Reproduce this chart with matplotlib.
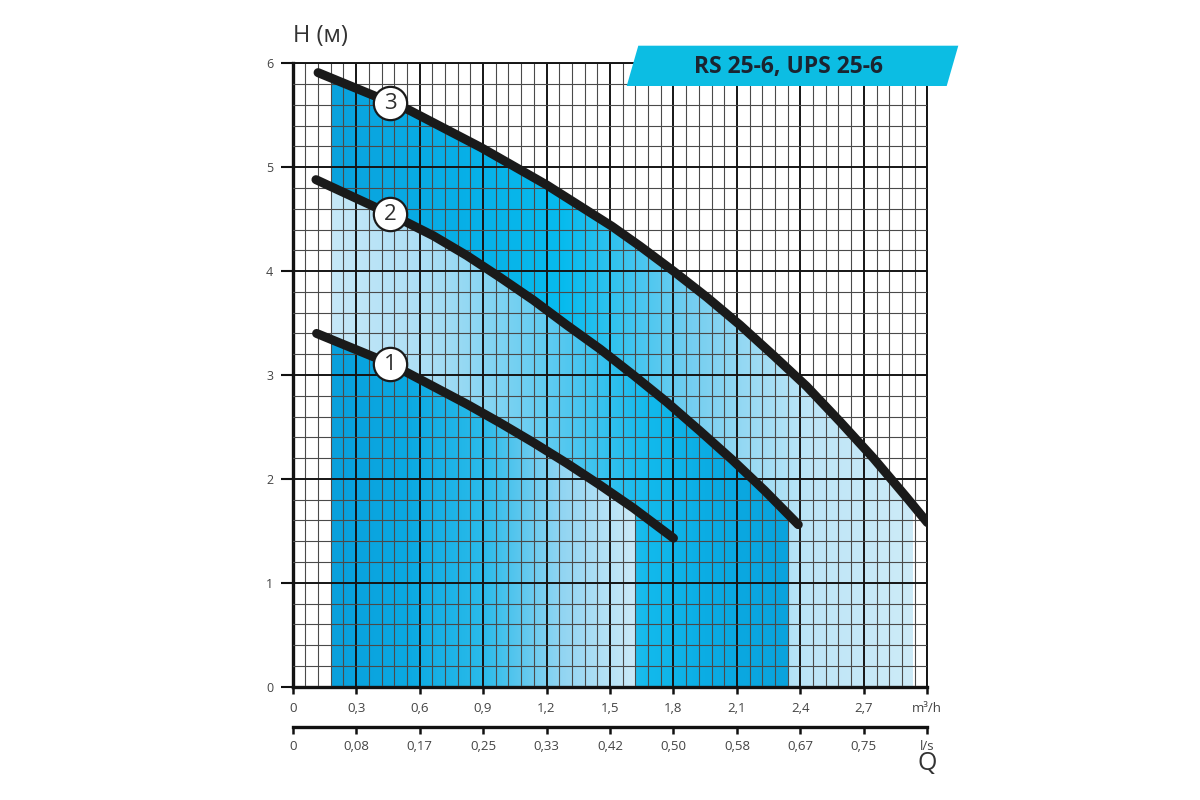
import matplotlib.pyplot as plt
import numpy as np
from matplotlib.patches import Polygon
from matplotlib.colors import LinearSegmentedColormap
from matplotlib import ticker

## DATA (Q in m3/h, H in m)

q1 = [0.113, 0.46, 0.665, 0.823, 0.98, 1.138, 1.296, 1.453, 1.61, 1.80]
h1 = [3.40, 3.11, 2.89, 2.72, 2.54, 2.35, 2.15, 1.94, 1.72, 1.43]

q2 = [0.11, 0.46, 0.665, 0.823, 0.98, 1.138, 1.296, 1.453, 1.61, 1.768, 1.926, 2.08, 2.23, 2.39]
h2 = [4.88, 4.55, 4.34, 4.15, 3.94, 3.72, 3.48, 3.25, 3.00, 2.74, 2.46, 2.18, 1.89, 1.56]

q3 = [0.12, 0.55, 0.89, 1.20, 1.51, 1.642, 1.80, 1.957, 2.115, 2.272, 2.43, 2.588, 2.745, 2.903, 3.0]
h3 = [5.91, 5.55, 5.19, 4.83, 4.43, 4.24, 4.00, 3.75, 3.48, 3.19, 2.89, 2.55, 2.20, 1.82, 1.58]

curve_names = ['1', '2', '3']
label_q = [0.46, 0.46, 0.46]
label_h = [3.11, 4.55, 5.62]

# shaded working zones: (q start, q end) under each curve
zone1 = (0.18, 1.62)
zone2 = (0.18, 2.34)
zone3 = (0.18, 2.93)

x_ticks = [0, 0.3, 0.6, 0.9, 1.2, 1.5, 1.8, 2.1, 2.4, 2.7, 3.0]
x_labels_m3h = ['0', '0,3', '0,6', '0,9', '1,2', '1,5', '1,8', '2,1', '2,4', '2,7', 'm³/h']
x_labels_ls = ['0', '0,08', '0,17', '0,25', '0,33', '0,42', '0,50', '0,58', '0,67', '0,75', 'l/s']
y_ticks = [0, 1, 2, 3, 4, 5, 6]

title = 'RS 25-6, UPS 25-6'

## FIGURE

plt.rcParams['font.family'] = ['Open Sans', 'DejaVu Sans']

fig = plt.figure(figsize=(12, 8), dpi=100)
L, R = 292.7 / 1200, 927.3 / 1200
B, T = 1 - 686.7 / 800, 1 - 63.3 / 800
ax = fig.add_axes([L, B, R - L, T - B])

cm_zone3 = LinearSegmentedColormap.from_list(
    'z3', [(0, '#0aa2dd'), (0.2, '#08aee6'), (0.4, '#07bbee'), (0.62, '#74cef0'),
           (0.82, '#bde5f7'), (1, '#cdebf8')])
cm_zone2 = LinearSegmentedColormap.from_list(
    'z2', [(0, '#c6e8f8'), (0.22, '#aadef5'), (0.5, '#58c9f0'), (0.7, '#12b9ec'),
           (0.85, '#0aaae2'), (1, '#0aa3dd')])
cm_zone1 = LinearSegmentedColormap.from_list(
    'z1', [(0, '#09a0dc'), (0.25, '#0ba9e2'), (0.5, '#2bbbea'), (0.75, '#8fd4f2'),
           (1, '#cbeaf8')])


def gradient_zone(q, h, zone, cmap, z):
    poly = Polygon(list(zip(q, h)) + [(q[-1], 0), (q[0], 0)], closed=True,
                   transform=ax.transData)
    grad = np.linspace(0, 1, 256).reshape(1, -1)
    im = ax.imshow(grad, cmap=cmap, extent=[zone[0], zone[1], 0, 6.5],
                   aspect='auto', origin='lower', zorder=z, interpolation='bilinear')
    im.set_clip_path(poly)


gradient_zone(q3, h3, zone3, cm_zone3, 0.2)
gradient_zone(q2, h2, zone2, cm_zone2, 0.3)
gradient_zone(q1, h1, zone1, cm_zone1, 0.4)

for q, h in [(q1, h1), (q2, h2), (q3, h3)]:
    ax.plot(q, h, color='#1a1a1a', lw=6.5, solid_capstyle='round',
            solid_joinstyle='round', zorder=5)

for name, lq, lh in zip(curve_names, label_q, label_h):
    ax.plot(lq, lh, 'o', ms=24, mfc='white', mec='#1a1a1a', mew=1.6, zorder=6)
    ax.text(lq, lh - 0.01, name, ha='center', va='center', fontsize=16,
            color='#2e2e2e', zorder=7)

ax.set_xlim(0, 3.0)
ax.set_ylim(0, 6)
ax.set_xticks(x_ticks)
ax.set_xticklabels(x_labels_m3h)
ax.set_yticks(y_ticks)
ax.xaxis.set_minor_locator(ticker.MultipleLocator(0.06))
ax.yaxis.set_minor_locator(ticker.MultipleLocator(0.2))
ax.set_axisbelow(False)
ax.grid(which='minor', color='#4a4a4a', lw=0.8)
ax.grid(which='major', color='#151515', lw=1.4)
ax.tick_params(which='minor', length=0)
ax.tick_params(axis='x', which='major', length=5, width=1.8, color='#111111',
               labelsize=9.5, labelcolor='#444444', pad=6)
ax.tick_params(axis='y', which='major', length=9, width=1.5, color='#111111',
               labelsize=9, labelcolor='#444444', pad=5)
for s in ['left', 'bottom']:
    ax.spines[s].set_linewidth(2.4)
    ax.spines[s].set_color('#111111')
for s in ['top', 'right']:
    ax.spines[s].set_linewidth(1.4)
    ax.spines[s].set_color('#151515')

# second Q scale in l/s
ax2 = fig.add_axes([L, 1 - 727 / 800, R - L, 0.0001])
ax2.set_xlim(0, 3.0)
ax2.set_xticks(x_ticks)
ax2.set_xticklabels(x_labels_ls)
ax2.set_yticks([])
ax2.patch.set_visible(False)
for s in ['left', 'top', 'right']:
    ax2.spines[s].set_visible(False)
ax2.spines['bottom'].set_linewidth(2.4)
ax2.spines['bottom'].set_color('#111111')
ax2.tick_params(axis='x', length=5, width=1.8, color='#111111',
                labelsize=9.5, labelcolor='#444444', pad=4)

fig.text(292.7 / 1200, 1 - 36 / 800, 'H (м)', fontsize=17, color='#333333',
         ha='left', va='center')
fig.text(927 / 1200, 1 - 764 / 800, 'Q', fontsize=18, color='#333333',
         ha='center', va='center')

# title banner
banner = [(638.3, 45.7), (958.3, 45.7), (946.7, 86), (626.7, 86)]
fig.add_artist(Polygon([(x / 1200, 1 - y / 800) for x, y in banner], closed=True,
                       facecolor='#0cbde3', edgecolor='none',
                       transform=fig.transFigure))
fig.text(788 / 1200, 1 - 66.5 / 800, title, fontsize=16.5, fontweight='bold',
         color='#1b2430', ha='center', va='center')

fig.savefig('out.png', dpi=100)
